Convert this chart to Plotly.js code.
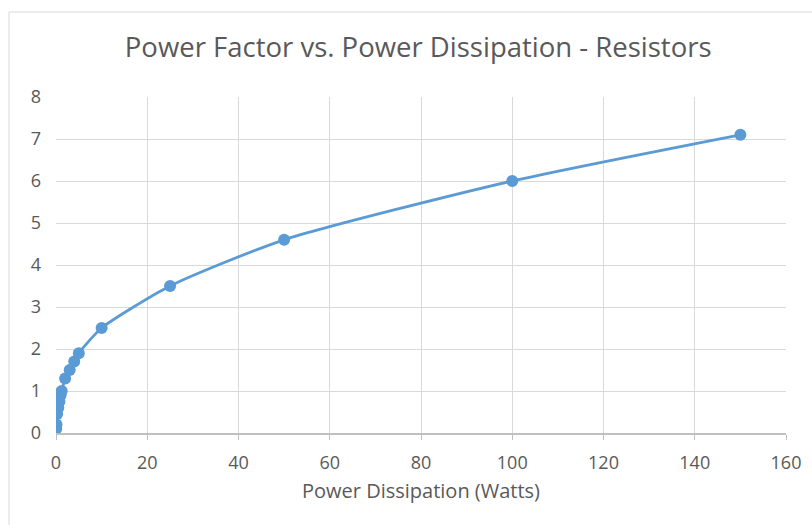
<!DOCTYPE html>
<html><head><meta charset="utf-8">
<script src="https://cdn.plot.ly/plotly-3.0.1.min.js"></script>
<style>html,body{margin:0;padding:0;background:#fff;}#chart{width:812px;height:525px;}</style>
</head><body><div id="chart"></div>
<script>
const powerWatts = [0.05, 0.1, 0.25, 0.5, 0.75, 1, 1.25, 2, 3, 4, 5, 10, 25, 50, 100, 150];
const powerFactor = [0.1, 0.2, 0.45, 0.6, 0.75, 0.9, 1.0, 1.3, 1.5, 1.7, 1.9, 2.5, 3.5, 4.6, 6.0, 7.1];
const xTicks = [0, 20, 40, 60, 80, 100, 120, 140, 160];
const yTicks = [0, 1, 2, 3, 4, 5, 6, 7, 8];

const font = "Open Sans, Noto Sans, sans-serif";
const trace = {
  x: powerWatts, y: powerFactor, type: 'scatter', mode: 'lines+markers',
  line: {color: '#5b9bd5', width: 2.8, shape: 'spline', smoothing: 0.6},
  marker: {color: '#5b9bd5', size: 12}
};
const layout = {
  width: 812, height: 525,
  margin: {l: 56, r: 26, t: 97, b: 92},
  paper_bgcolor: '#fff', plot_bgcolor: '#fff',
  showlegend: false,
  title: {text: 'Power Factor vs. Power Dissipation - Resistors', x: 0.515, xanchor: 'center', y: 0.909, yanchor: 'middle',
          font: {family: font, size: 27.5, color: '#595959'}},
  xaxis: {range: [0, 160], tickvals: xTicks, ticktext: xTicks.map(String),
          showgrid: true, gridcolor: '#d9d9d9', gridwidth: 1,
          zeroline: false, showline: true, linecolor: '#bfbfbf', linewidth: 1.5,
          ticks: 'outside', ticklen: 5, tickcolor: '#bfbfbf', ticklabelstandoff: 8,
          tickfont: {family: font, size: 18, color: '#595959'},
          title: {text: 'Power Dissipation (Watts)', font: {family: font, size: 20, color: '#595959'}, standoff: 11}},
  yaxis: {range: [0, 8], tickvals: yTicks, ticktext: yTicks.map(String),
          showgrid: true, gridcolor: '#d9d9d9', gridwidth: 1,
          zeroline: false, showline: false, ticks: '', ticklabelstandoff: 14,
          tickfont: {family: font, size: 18, color: '#595959'}},
  shapes: [{type: 'rect', xref: 'paper', yref: 'paper',
            x0: (9 - 56) / 730, x1: 1.2, y0: -0.5, y1: (433 - 12) / 336,
            line: {color: '#d9d9d9', width: 1}, fillcolor: 'rgba(0,0,0,0)', layer: 'below'}]
};
Plotly.newPlot('chart', [trace], layout, {displayModeBar: false, staticPlot: true});
</script></body></html>
